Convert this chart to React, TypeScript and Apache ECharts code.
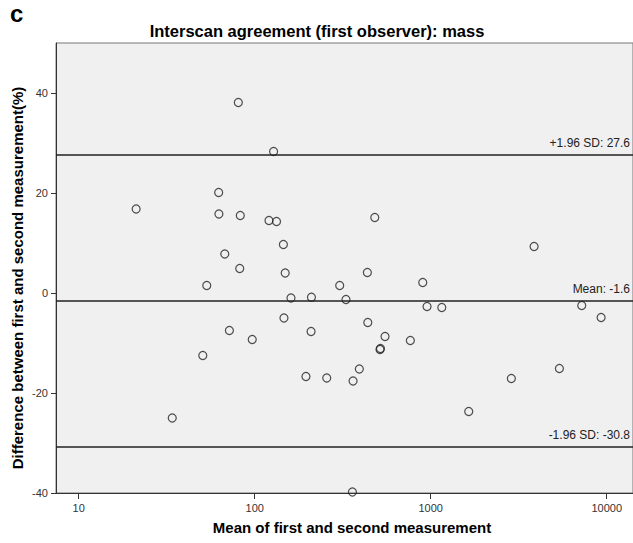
import React, { useEffect, useRef } from 'react';
import * as echarts from 'echarts';

// Mean of first and second measurement (x, log scale)
const meanValues = [
  80.7, 128, 62.4, 21.2, 62.6, 82.8, 120.5, 133, 145.5, 67.6,
  82.2, 149, 53.4, 160.7, 210, 304, 146.6, 71.8, 96.8, 209,
  50.7, 195.5, 256.6, 34, 481, 3866, 436.5, 901, 330, 953,
  1156, 7211, 9290, 439, 550, 515, 518, 766, 393, 362,
  2871, 5383, 1644, 359,
];
// Difference between first and second measurement (%)
const diffValues = [
  38.1, 28.3, 20.1, 16.8, 15.8, 15.5, 14.5, 14.3, 9.7, 7.8,
  4.9, 4.0, 1.5, -1.0, -0.85, 1.5, -5.0, -7.5, -9.3, -7.7,
  -12.5, -16.7, -17.0, -25.0, 15.1, 9.3, 4.1, 2.1, -1.3, -2.7,
  -2.9, -2.5, -4.9, -5.9, -8.7, -11.3, -11.1, -9.5, -15.2, -17.6,
  -17.1, -15.1, -23.7, -39.8,
];

const xTickValues = [10, 100, 1000, 10000];
const yTickValues = [-40, -20, 0, 20, 40];

const meanDiff = -1.6;
const upperLimit = 27.6;
const lowerLimit = -30.8;

const xMin = 7.43;
const xMax = 14100;

export default function App() {
  const ref = useRef<HTMLDivElement>(null);

  useEffect(() => {
    if (!ref.current) return;
    const chart = echarts.init(ref.current, undefined, { renderer: 'svg' });
    const font = 'Arial, "Liberation Sans", sans-serif';
    const data = meanValues.map((m, i) => [Math.log10(m), diffValues[i]]);
    const xTicks = xTickValues.map((v) => Math.log10(v));

    chart.setOption({
      animation: false,
      backgroundColor: '#ffffff',
      textStyle: { fontFamily: font },
      grid: {
        left: 56,
        right: 0,
        top: 43,
        bottom: 50,
        show: true,
        backgroundColor: '#f0f0f0',
        borderColor: '#777777',
        borderWidth: 1,
      },
      xAxis: {
        type: 'value',
        min: Math.log10(xMin),
        max: Math.log10(xMax),
        splitLine: { show: false },
        axisLine: { show: true, onZero: false, lineStyle: { color: '#333333', width: 1 } },
        axisTick: {
          show: true,
          length: 6,
          customValues: xTicks,
          lineStyle: { color: '#333333' },
        },
        axisLabel: {
          customValues: xTicks,
          formatter: (v: number) => String(Math.round(Math.pow(10, v))),
          color: '#333333',
          fontSize: 11,
          fontFamily: font,
          margin: 9,
        },
      },
      yAxis: {
        type: 'value',
        min: -40,
        max: 50,
        splitLine: { show: false },
        axisLine: { show: true, onZero: false, lineStyle: { color: '#333333', width: 1 } },
        axisTick: {
          show: true,
          length: 5,
          customValues: yTickValues,
          lineStyle: { color: '#333333' },
        },
        axisLabel: {
          customValues: yTickValues,
          color: '#333333',
          fontSize: 11,
          fontFamily: font,
          margin: 8,
        },
      },
      graphic: [
        {
          type: 'text',
          left: 10,
          top: 1,
          style: { text: 'c', font: `bold 24px ${font}`, fill: '#000' },
        },
        {
          type: 'text',
          x: 317,
          y: 31,
          style: {
            text: 'Interscan agreement (first observer): mass',
            font: `bold 16.5px ${font}`,
            fill: '#000',
            textAlign: 'center',
            textVerticalAlign: 'middle',
          },
        },
        {
          type: 'text',
          x: 352,
          y: 527,
          style: {
            text: 'Mean of first and second measurement',
            font: `bold 15px ${font}`,
            fill: '#000',
            textAlign: 'center',
            textVerticalAlign: 'middle',
          },
        },
        {
          type: 'text',
          x: 17,
          y: 278,
          rotation: Math.PI / 2,
          style: {
            text: 'Difference between first and second measurement(%)',
            font: `bold 15px ${font}`,
            fill: '#000',
            textAlign: 'center',
            textVerticalAlign: 'middle',
          },
        },
      ],
      series: [
        {
          type: 'scatter',
          data,
          symbol: 'circle',
          symbolSize: 8,
          itemStyle: { color: 'rgba(0,0,0,0)', borderColor: '#222222', borderWidth: 1.2 },
          markLine: {
            silent: true,
            symbol: ['none', 'none'],
            lineStyle: { type: 'solid', color: '#222222', width: 1.5 },
            label: {
              show: true,
              position: 'insideEndTop',
              color: '#222222',
              fontSize: 12,
              fontFamily: font,
              distance: [3, 6],
            },
            data: [
              { yAxis: upperLimit, label: { formatter: `+1.96 SD: ${upperLimit}` } },
              { yAxis: meanDiff, label: { formatter: `Mean: ${meanDiff}` } },
              { yAxis: lowerLimit, label: { formatter: `-1.96 SD: ${lowerLimit}` } },
            ],
          },
        },
      ],
    });
    return () => chart.dispose();
  }, []);

  return (
    <div
      style={{
        position: 'fixed',
        left: 0,
        top: 0,
        width: 633,
        height: 543,
        overflow: 'hidden',
        background: '#fff',
      }}
    >
      <div ref={ref} style={{ width: 633, height: 543 }} />
    </div>
  );
}
